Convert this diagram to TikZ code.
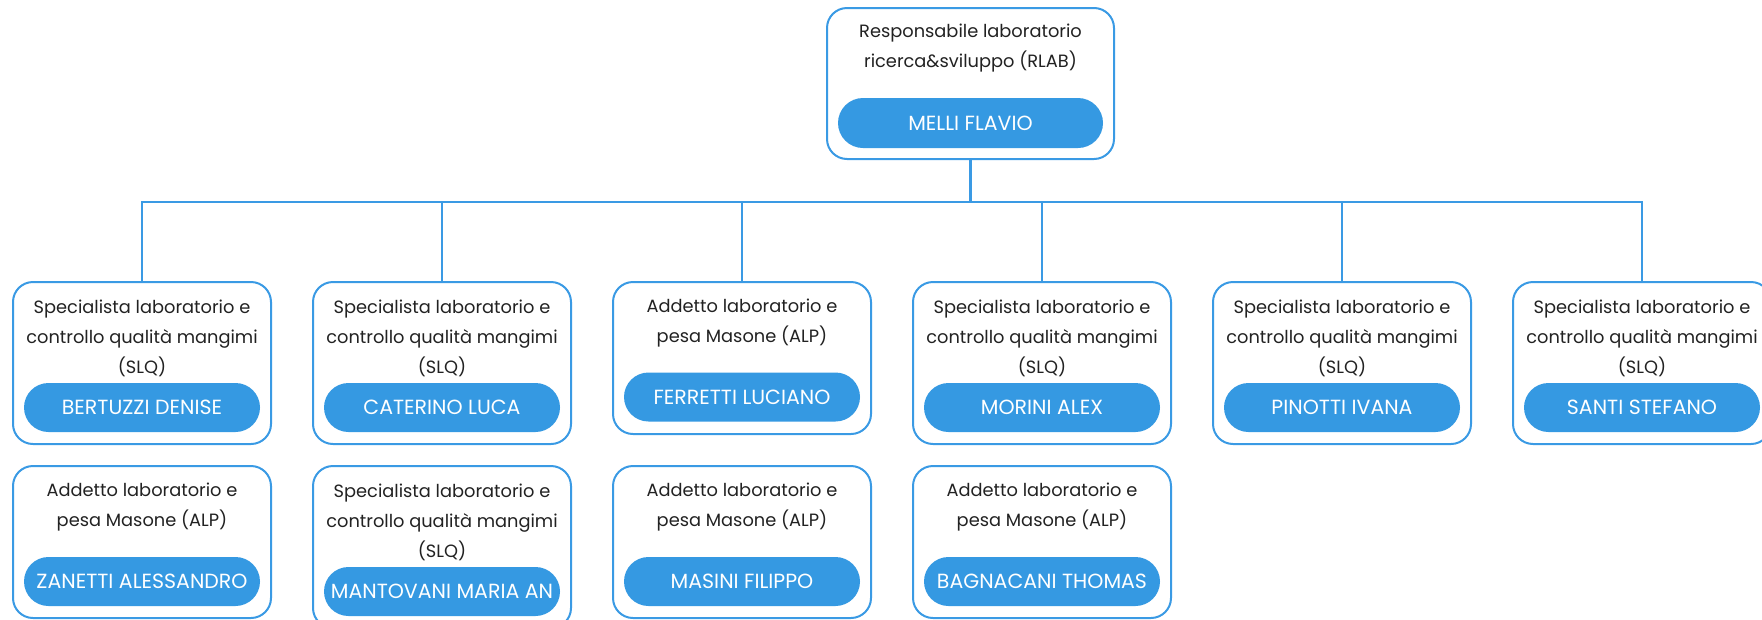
\documentclass[tikz,border=0pt]{standalone}
\usepackage{fontspec}
\setmainfont{Poppins}
\usepackage{tikz}
\usetikzlibrary{positioning}

\definecolor{lineblue}{HTML}{3A9AE4}
\definecolor{pillblue}{HTML}{3599E2}
\definecolor{ink}{HTML}{222222}

\tikzset{
  card/.style={draw=lineblue, line width=2pt, rounded corners=20pt, anchor=north,
    minimum width=258pt, inner sep=0pt, fill=white},
  slqcard/.style={card, minimum height=162pt},
  alpcard/.style={card, minimum height=152pt},
  role/.style={text=ink, align=center, inner sep=0pt,
    font=\fontsize{17.8}{30}\selectfont},
  pill/.style={fill=pillblue, text=white, rounded corners=24.5pt, inner sep=0pt,
    minimum width=236pt, minimum height=49pt, font=\fontsize{20.5}{22}\selectfont},
  link/.style={draw=lineblue, line width=2.5pt},
}

\begin{document}
\begin{tikzpicture}[x=1pt, y=-1pt, node distance=2cm, on grid]
\useasboundingbox (0,0) rectangle (1762,619);
\clip (0,0) rectangle (1762,619);

% head of the lab
\node[card, minimum width=287pt, minimum height=151pt] (rlab) at (970.5,7) {};
\node[role] (rlab_role) [below=41pt of rlab.north, anchor=center] {Responsabile laboratorio\\ricerca\&sviluppo (RLAB)};
\node[pill, minimum width=265pt, minimum height=50pt, rounded corners=25pt] (rlab_name) [below=116pt of rlab.north, anchor=center] {MELLI FLAVIO};

\coordinate (bus) at (971,202);

% first row
\node[slqcard] (c_1) at (142,281) {};
\node[role] (c_1_role) [below=57pt of c_1.north, anchor=center] {Specialista laboratorio e\\controllo qualità mangimi\\(SLQ)};
\node[pill] (c_1_name) [below=126.5pt of c_1.north, anchor=center] {BERTUZZI DENISE};

\node[slqcard] (c_2) at (442,281) {};
\node[role] (c_2_role) [below=57pt of c_2.north, anchor=center] {Specialista laboratorio e\\controllo qualità mangimi\\(SLQ)};
\node[pill] (c_2_name) [below=126.5pt of c_2.north, anchor=center] {CATERINO LUCA};

\node[alpcard] (c_3) at (742,281) {};
\node[role] (c_3_role) [below=42pt of c_3.north, anchor=center] {Addetto laboratorio e\\pesa Masone (ALP)};
\node[pill] (c_3_name) [below=116pt of c_3.north, anchor=center] {FERRETTI LUCIANO};

\node[slqcard] (c_4) at (1042,281) {};
\node[role] (c_4_role) [below=57pt of c_4.north, anchor=center] {Specialista laboratorio e\\controllo qualità mangimi\\(SLQ)};
\node[pill] (c_4_name) [below=126.5pt of c_4.north, anchor=center] {MORINI ALEX};

\node[slqcard] (c_5) at (1342,281) {};
\node[role] (c_5_role) [below=57pt of c_5.north, anchor=center] {Specialista laboratorio e\\controllo qualità mangimi\\(SLQ)};
\node[pill] (c_5_name) [below=126.5pt of c_5.north, anchor=center] {PINOTTI IVANA};

\node[slqcard] (c_6) at (1642,281) {};
\node[role] (c_6_role) [below=57pt of c_6.north, anchor=center] {Specialista laboratorio e\\controllo qualità mangimi\\(SLQ)};
\node[pill] (c_6_name) [below=126.5pt of c_6.north, anchor=center] {SANTI STEFANO};

% second row
\node[alpcard] (d_1) at (142,465) {};
\node[role] (d_1_role) [below=42.5pt of d_1.north, anchor=center] {Addetto laboratorio e\\pesa Masone (ALP)};
\node[pill] (d_1_name) [below=116.5pt of d_1.north, anchor=center] {ZANETTI ALESSANDRO};

\node[slqcard] (d_2) at (442,465) {};
\node[role] (d_2_role) [below=57pt of d_2.north, anchor=center] {Specialista laboratorio e\\controllo qualità mangimi\\(SLQ)};
\node[pill] (d_2_name) [below=126.5pt of d_2.north, anchor=center] {MANTOVANI MARIA AN};

\node[alpcard] (d_3) at (742,465) {};
\node[role] (d_3_role) [below=42.5pt of d_3.north, anchor=center] {Addetto laboratorio e\\pesa Masone (ALP)};
\node[pill] (d_3_name) [below=116.5pt of d_3.north, anchor=center] {MASINI FILIPPO};

\node[alpcard] (d_4) at (1042,465) {};
\node[role] (d_4_role) [below=42.5pt of d_4.north, anchor=center] {Addetto laboratorio e\\pesa Masone (ALP)};
\node[pill] (d_4_name) [below=116.5pt of d_4.north, anchor=center] {BAGNACANI THOMAS};

% connectors
\draw[link] (rlab.south) -- (rlab.south |- bus);
\draw[link] (c_1.north) -- (c_1.north |- bus) -- (c_6.north |- bus) -- (c_6.north);
\draw[link] (c_2.north) -- (c_2.north |- bus);
\draw[link] (c_3.north) -- (c_3.north |- bus);
\draw[link] (c_4.north) -- (c_4.north |- bus);
\draw[link] (c_5.north) -- (c_5.north |- bus);
\end{tikzpicture}
\end{document}
